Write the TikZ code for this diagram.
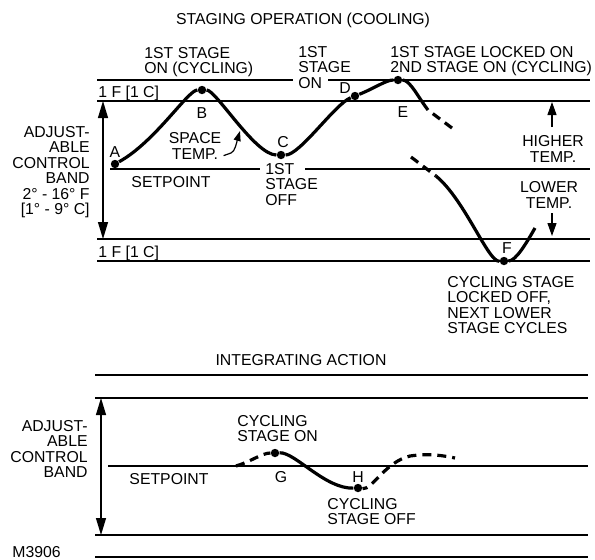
\documentclass[tikz,border=0pt]{standalone}
\usepackage{fontspec}
\setmainfont{Liberation Sans}
\usetikzlibrary{arrows.meta,positioning}

\begin{document}
\begin{tikzpicture}[x=0.5pt,y=-0.5pt,
  lbl/.style={inner sep=0pt,font=\fontsize{7.9}{7.7}\selectfont},
  band/.style={line width=0.8pt},
  temp/.style={line width=1.6pt},
  tempdash/.style={temp,dash pattern=on 4.5pt off 3pt},
  pt/.style={circle,fill,inner sep=0pt,minimum size=4.2pt},
  bandarrow/.style={line width=0.6pt,{Triangle[length=8.5pt,width=5pt]}-{Triangle[length=8.5pt,width=5pt]}},
  dirarrow/.style={line width=0.6pt,-{Triangle[length=6.5pt,width=4.5pt]}}]
\useasboundingbox (0,0) rectangle (595,559);

% Staging operation
\node[lbl] (title1) at (303,20) {STAGING OPERATION (COOLING)};
\draw[band] (97,80) -- (293,80);
\draw[band] (328,80) -- (590,80);
\foreach \y in {101,239,261} {
  \draw[band] (97,\y) -- (590,\y);
}
\draw[band] (110,169) -- (260,169);
\draw[band] (305,169) -- (590,169);
\node[lbl,anchor=base west] (degtop) at (98,97) {1 F [1 C]};
\node[lbl,anchor=base west] (degbot) at (98,257) {1 F [1 C]};

% Control band
\coordinate (bandtop) at (103,101);
\coordinate (bandbot) at (103,239);
\draw[bandarrow] (bandtop) -- (bandbot);
\node[lbl,align=right,anchor=north east] (bandtxt) at (90,126)
  {ADJUST-\\ABLE\\CONTROL\\BAND\\2° - 16° F\\{}[1° - 9° C]};
\node[lbl] (setpt1) at (171,182) {SETPOINT};

% Stage labels
\node[lbl,align=left,anchor=north west] (stgon) at (144,47) {1ST STAGE\\ON (CYCLING)};
\node[lbl,align=left,anchor=north west] (stgon2) at (298,46) {1ST\\STAGE\\ON};
\node[lbl,align=left,anchor=north west] (locked) at (390,46) {1ST STAGE LOCKED ON\\2ND STAGE ON (CYCLING)};
\node[lbl,align=left,anchor=north west] (stgoff) at (265,163) {1ST\\STAGE\\OFF};
\node[lbl,align=left,anchor=north west] (cycoff) at (447,276)
  {CYCLING STAGE\\LOCKED OFF,\\NEXT LOWER\\STAGE CYCLES};

% Space temperature
\node[pt] (A) at (115,164) {};
\node[pt] (B) at (202,90) {};
\node[pt] (C) at (281,155) {};
\node[pt] (D) at (355,96) {};
\node[pt] (E) at (398,80) {};
\node[pt] (F) at (504,261) {};
\coordinate (e1) at (428,110);
\coordinate (e2) at (452,128);
\coordinate (f1) at (411,157);
\coordinate (f2) at (436,176);
\coordinate (f3) at (535,228);
\draw[temp] (A) .. controls (155,142) and (188,90) .. (B)
  .. controls (216,90) and (255,155) .. (C)
  .. controls (300,155) and (335,104) .. (D)
  .. controls (375,88) and (386,80) .. (E)
  .. controls (410,80) and (418,97) .. (e1);
\draw[tempdash,dash phase=4.5pt] (e1) -- (e2);
\draw[tempdash] (f1) -- (f2);
\draw[temp] (f2) .. controls (465,200) and (488,262) .. (F)
  .. controls (516,261) and (527,242) .. (f3);
\node[lbl] (labA) at (115,152) {A};
\node[lbl] (labB) at (202,113) {B};
\node[lbl] (labC) at (283,142) {C};
\node[lbl] (labD) at (345,88) {D};
\node[lbl] (labE) at (403,112) {E};
\node[lbl] (labF) at (507,248) {F};
\node[lbl,align=center] (spacetemp) at (195,146) {SPACE\\TEMP.};
\draw[line width=0.6pt,-{Triangle[length=5pt,width=3.5pt]}] (spacetemp.south east) ++(2,-4)
  -- (231,153) .. controls (235,152) and (237,141) .. (240,131);

% Higher / lower
\node[lbl,align=center] (higher) at (553,149) {HIGHER\\TEMP.};
\node[lbl,align=center] (lower) at (549,195) {LOWER\\TEMP.};
\coordinate (hi1) at (552,127);
\coordinate (hi2) at (552,102);
\coordinate (lo1) at (552,213);
\coordinate (lo2) at (552,236);
\draw[dirarrow] (hi1) -- (hi2);
\draw[dirarrow] (lo1) -- (lo2);

% Integrating action
\node[lbl] (title2) at (301,360) {INTEGRATING ACTION};
\foreach \y in {375,398,535,557} {
  \draw[band] (95,\y) -- (588,\y);
}
\draw[band] (108,466) -- (588,466);
\coordinate (band2top) at (101,398);
\coordinate (band2bot) at (101,535);
\draw[bandarrow] (band2top) -- (band2bot);
\node[lbl,align=right,anchor=north east] (bandtxt2) at (88,420) {ADJUST-\\ABLE\\CONTROL\\BAND};
\node[lbl] (setpt2) at (169,479) {SETPOINT};
\node[pt] (G) at (275,453) {};
\node[pt] (H) at (358,488) {};
\coordinate (g0) at (236,466);
\coordinate (h1) at (410,456);
\coordinate (h2) at (455,458);
\draw[tempdash] (g0) .. controls (250,462) and (262,453) .. (G);
\draw[temp] (G) .. controls (295,452) and (325,489) .. (H);
\draw[tempdash,dash phase=2pt] (H) .. controls (372,490) and (385,462) .. (h1)
  .. controls (430,453) and (445,456) .. (h2);
\node[lbl] (labG) at (281,477) {G};
\node[lbl] (labH) at (358,477) {H};
\node[lbl,align=left,anchor=north west] (cycon2) at (237,415) {CYCLING\\STAGE ON};
\node[lbl,align=left,anchor=north west] (cycoff2) at (327,498) {CYCLING\\STAGE OFF};

\node[lbl,anchor=north west] (fig) at (12,546) {M3906};
\end{tikzpicture}
\end{document}
